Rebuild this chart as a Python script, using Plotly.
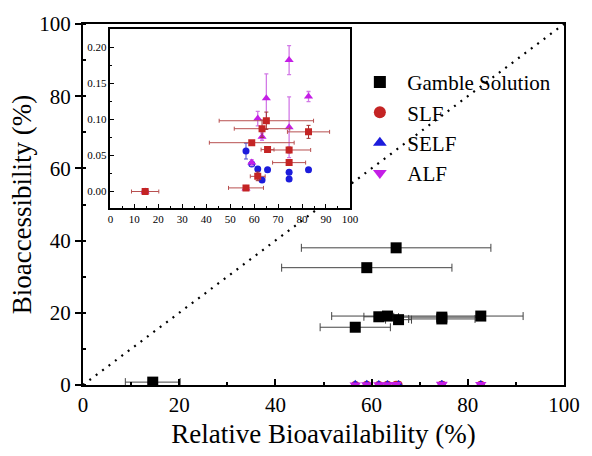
import plotly.graph_objects as go

# Shared relative bioavailability (x) per sample and its x error
sample_x = [14.5, 56.6, 59.0, 61.5, 63.3, 65.1, 65.6, 74.6, 74.6, 82.7]
sample_xerr = [5.7, 7.3, 17.7, 3.1, 11.6, 19.7, 2.7, 9.0, 6.9, 8.8]

# Bioaccessibility (%) per series
gamble_y = [0.8, 16.0, 32.5, 18.9, 19.1, 38.0, 18.1, 18.8, 18.3, 19.1]
slf_y = [0.000, 0.005, 0.0676, 0.021, 0.087, 0.098, 0.058, 0.0575, 0.040, 0.0826]
slf_yerr = [0.001, 0.002, 0.003, 0.006, 0.012, 0.012, 0.003, 0.004, 0.004, 0.009]
self_y = [0.000, 0.056, 0.038, 0.031, 0.016, None, 0.030, 0.0265, 0.0174, 0.030]
self_yerr = [0.0, 0.011, 0.002, 0.003, 0.003, 0.0, 0.002, 0.003, 0.003, 0.003]
alf_y = [0.000, 0.004, 0.040, 0.101, 0.076, 0.129, None, 0.182, 0.089, 0.1315]
alf_yerr = [0.0, 0.002, 0.004, 0.010, 0.005, 0.034, 0.0, 0.020, 0.042, 0.007]

diag = [0, 100]
main_ticks = [0, 20, 40, 60, 80, 100]
inset_xticks = [0, 10, 20, 30, 40, 50, 60, 70, 80, 90, 100]
inset_yticks = [0.00, 0.05, 0.10, 0.15, 0.20]

FONT = "Times New Roman"
RED = "#c42424"
BLUE = "#1c1cdc"
MAG = "#c41ee6"

fig = go.Figure()

# diagonal 1:1 line
fig.add_trace(go.Scatter(x=diag, y=diag, mode="lines", showlegend=False,
                         line=dict(color="black", width=2.2, dash="2px,6px"),
                         hoverinfo="skip"))

# main-panel points (leachates sit near zero); these also make the legend
fig.add_trace(go.Scatter(x=sample_x, y=slf_y, mode="markers", name="SLF",
                         legendrank=2,
                         marker=dict(symbol="circle", size=8, color=RED)))
fig.add_trace(go.Scatter(x=sample_x, y=self_y, mode="markers", name="SELF",
                         legendrank=3,
                         marker=dict(symbol="triangle-up", size=10, color=BLUE)))
fig.add_trace(go.Scatter(x=sample_x, y=alf_y, mode="markers", name="ALF",
                         legendrank=4,
                         marker=dict(symbol="triangle-down", size=10, color=MAG)))
fig.add_trace(go.Scatter(x=sample_x, y=gamble_y, mode="markers", name="Gamble Solution",
                         legendrank=1,
                         marker=dict(symbol="square", size=11, color="black"),
                         error_x=dict(type="data", array=sample_xerr, color="#444",
                                      thickness=1, width=4)))

# inset traces
fig.add_trace(go.Scatter(x=sample_x, y=self_y, mode="markers", showlegend=False,
                         xaxis="x2", yaxis="y2",
                         marker=dict(symbol="circle", size=7, color=BLUE),
                         error_y=dict(type="data", array=self_yerr, color="#4a4ad0",
                                      thickness=1, width=2)))
fig.add_trace(go.Scatter(x=sample_x, y=alf_y, mode="markers", showlegend=False,
                         xaxis="x2", yaxis="y2",
                         marker=dict(symbol="triangle-up", size=8, color=MAG),
                         error_y=dict(type="data", array=alf_yerr, color="#d27ae6",
                                      thickness=1.3, width=2)))
fig.add_trace(go.Scatter(x=sample_x, y=slf_y, mode="markers", showlegend=False,
                         xaxis="x2", yaxis="y2",
                         marker=dict(symbol="square", size=7, color=RED),
                         error_x=dict(type="data", array=sample_xerr, color="#b85050",
                                      thickness=1, width=2),
                         error_y=dict(type="data", array=slf_yerr, color="#a03030",
                                      thickness=1, width=2)))

fig.update_layout(
    width=592, height=456,
    margin=dict(l=83, r=19, t=22, b=69),
    plot_bgcolor="white", paper_bgcolor="white",
    font=dict(size=20, family=FONT),
    legend=dict(x=0.56, y=0.895, xanchor="left", yanchor="top",
                bgcolor="rgba(0,0,0,0)",
                font=dict(size=21, family=FONT, color="black"),
                itemwidth=45, tracegroupgap=0, itemsizing="constant"),
    xaxis=dict(range=[0, 100], tickvals=main_ticks, ticks="inside", ticklen=6,
               tickwidth=1.5, tickcolor="black",
               minor=dict(dtick=10, ticks="inside", ticklen=3, tickcolor="black"),
               showline=True, linewidth=2, linecolor="black", mirror=True,
               showgrid=False, zeroline=False,
               tickfont=dict(size=21, family=FONT, color="black"),
               title=dict(text="Relative Bioavailability (%)",
                          font=dict(size=27, family=FONT, color="black"), standoff=8)),
    yaxis=dict(range=[0, 100], tickvals=main_ticks, ticks="outside", ticklen=6,
               tickwidth=1.5, tickcolor="black",
               minor=dict(dtick=10, ticks="inside", ticklen=3, tickcolor="black"),
               showline=True, linewidth=2, linecolor="black", mirror=True,
               showgrid=False, zeroline=False,
               tickfont=dict(size=21, family=FONT, color="black"),
               title=dict(text="Bioaccessibility (%)",
                          font=dict(size=27, family=FONT, color="black"), standoff=0)),
    xaxis2=dict(domain=[0.057, 0.555], anchor="y2", range=[0, 100],
                tickvals=inset_xticks, ticks="inside", ticklen=4, tickcolor="black",
                minor=dict(dtick=5, ticks="inside", ticklen=2, tickcolor="black"),
                showline=True, linewidth=1.5, linecolor="black", mirror=True,
                showgrid=False, zeroline=False,
                tickfont=dict(size=11, family=FONT, color="black")),
    yaxis2=dict(domain=[0.49, 0.986], anchor="x2", range=[-0.023, 0.225],
                tickvals=inset_yticks, tickformat=".2f", ticks="inside", ticklen=4,
                tickcolor="black",
                minor=dict(dtick=0.025, ticks="inside", ticklen=2, tickcolor="black"),
                showline=True, linewidth=1.5, linecolor="black", mirror=True,
                showgrid=False, zeroline=False,
                tickfont=dict(size=11, family=FONT, color="black")),
)

fig.write_html("out.html")
